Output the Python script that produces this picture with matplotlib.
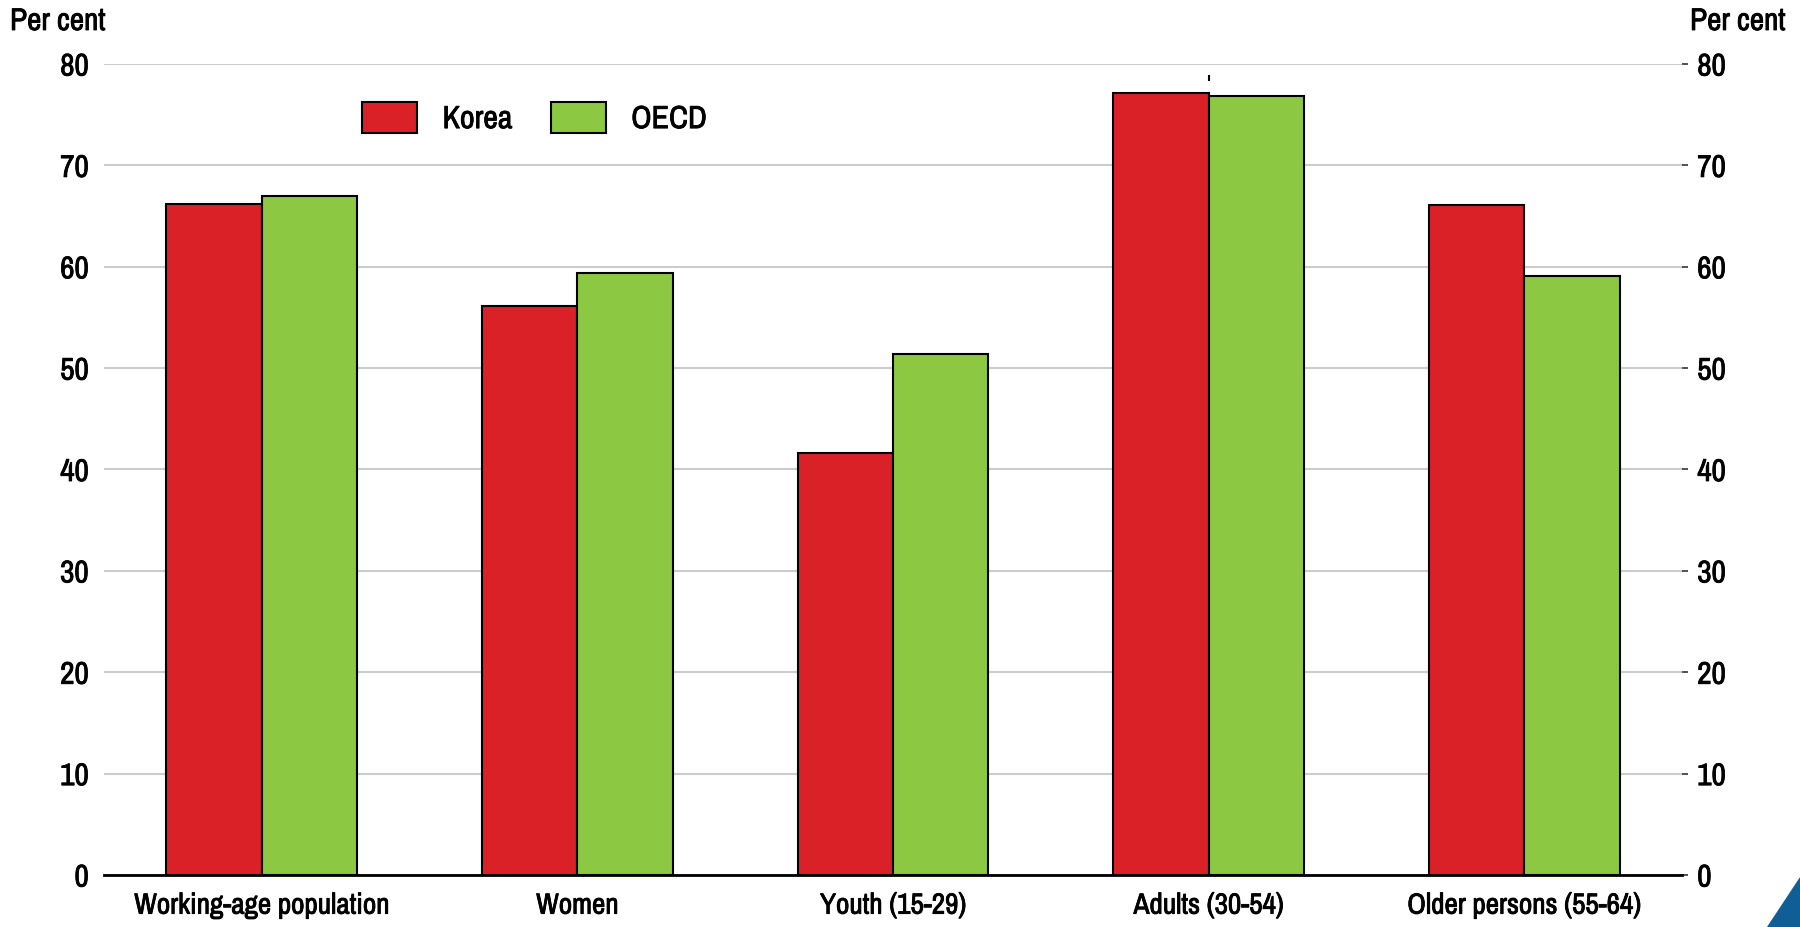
import matplotlib
matplotlib.use("Agg")
import matplotlib.pyplot as plt
import matplotlib.patheffects as pe
import numpy as np
from matplotlib.patches import Polygon

# ---- data ----
categories = ["Working-age population", "Women", "Youth (15-29)",
              "Adults (30-54)", "Older persons (55-64)"]
korea = [66.2, 56.1, 41.6, 77.1, 66.1]
oecd = [67.0, 59.4, 51.4, 76.8, 59.1]
series_names = ["Korea", "OECD"]
y_ticks = [0, 10, 20, 30, 40, 50, 60, 70, 80]
stray_tick_index = 3
stray_tick_value = 78.6

# ---- style ----
RED = "#DA2128"
GREEN = "#8CC841"
BLUE = "#0F5E96"
FONT = ["Archivo Narrow", "Liberation Sans", "DejaVu Sans"]
plt.rcParams["font.family"] = FONT
FS_Y = 22.5
FS_X = 21
LFS = 23
heavy = [pe.withStroke(linewidth=0.6, foreground="black")]

W, H = 1800, 928
fig = plt.figure(figsize=(W / 100, H / 100), dpi=100)
left, right = 104 / W, 1682 / W
bottom, top = 1 - 876 / H, 1 - 65 / H
ax = fig.add_axes([left, bottom, right - left, top - bottom])

x = np.arange(len(categories))
bw = 0.302
b1 = ax.bar(x - bw / 2, korea, bw, color=RED, edgecolor="black", linewidth=1.5,
            zorder=3, label=series_names[0])
b2 = ax.bar(x + bw / 2, oecd, bw, color=GREEN, edgecolor="black", linewidth=1.5,
            zorder=3, label=series_names[1])

ax.plot([stray_tick_index], [stray_tick_value], marker="|", markersize=4.5,
        color="black", mew=1.5, zorder=4, linestyle="none")

ax.set_xlim(-0.5, len(categories) - 0.5)
ax.set_ylim(0, 80)
ax.set_yticks(y_ticks)
ax.set_xticks(x)
ax.set_xticklabels(categories, fontsize=FS_X)
ax.tick_params(axis="x", length=0, pad=12)
ax.tick_params(axis="y", left=False, right=True, labelleft=True, labelright=True,
               length=4, width=1.2, color="#333333", labelsize=FS_Y, pad=7)
for lab in ax.get_xticklabels() + ax.get_yticklabels() + ax.yaxis.get_ticklabels(which="major"):
    lab.set_path_effects(heavy)
for t in ax.yaxis.get_major_ticks():
    t.label2.set_path_effects(heavy)

ax.grid(axis="y", color="#cccccc", linewidth=1.5, zorder=0)
ax.set_axisbelow(True)
for s in ["top", "left", "right"]:
    ax.spines[s].set_visible(False)
ax.spines["bottom"].set_linewidth(2)
ax.spines["bottom"].set_color("black")
ax.spines["bottom"].set_zorder(4)

fig.text(10 / W, 1 - 31 / H, "Per cent", fontsize=FS_Y, va="baseline", ha="left",
         path_effects=heavy)
fig.text(1690 / W, 1 - 31 / H, "Per cent", fontsize=FS_Y, va="baseline", ha="left",
         path_effects=heavy)

leg = fig.legend(handles=[b1, b2], labels=series_names, loc="center left",
                 bbox_to_anchor=(362 / W, 1 - 118.5 / H), bbox_transform=fig.transFigure,
                 ncol=2, frameon=False, fontsize=LFS, borderpad=0, borderaxespad=0,
                 handlelength=1.72, handleheight=1.1, handletextpad=0.8,
                 columnspacing=1.2)
for t in leg.get_texts():
    t.set_path_effects(heavy)

tri = Polygon([[1767 / W, 0], [1 + 0.001, 0], [1 + 0.001, 1 - 875 / H]],
              closed=True, transform=fig.transFigure, color=BLUE, zorder=10)
fig.patches.append(tri)

fig.savefig("out.png", dpi=100)
